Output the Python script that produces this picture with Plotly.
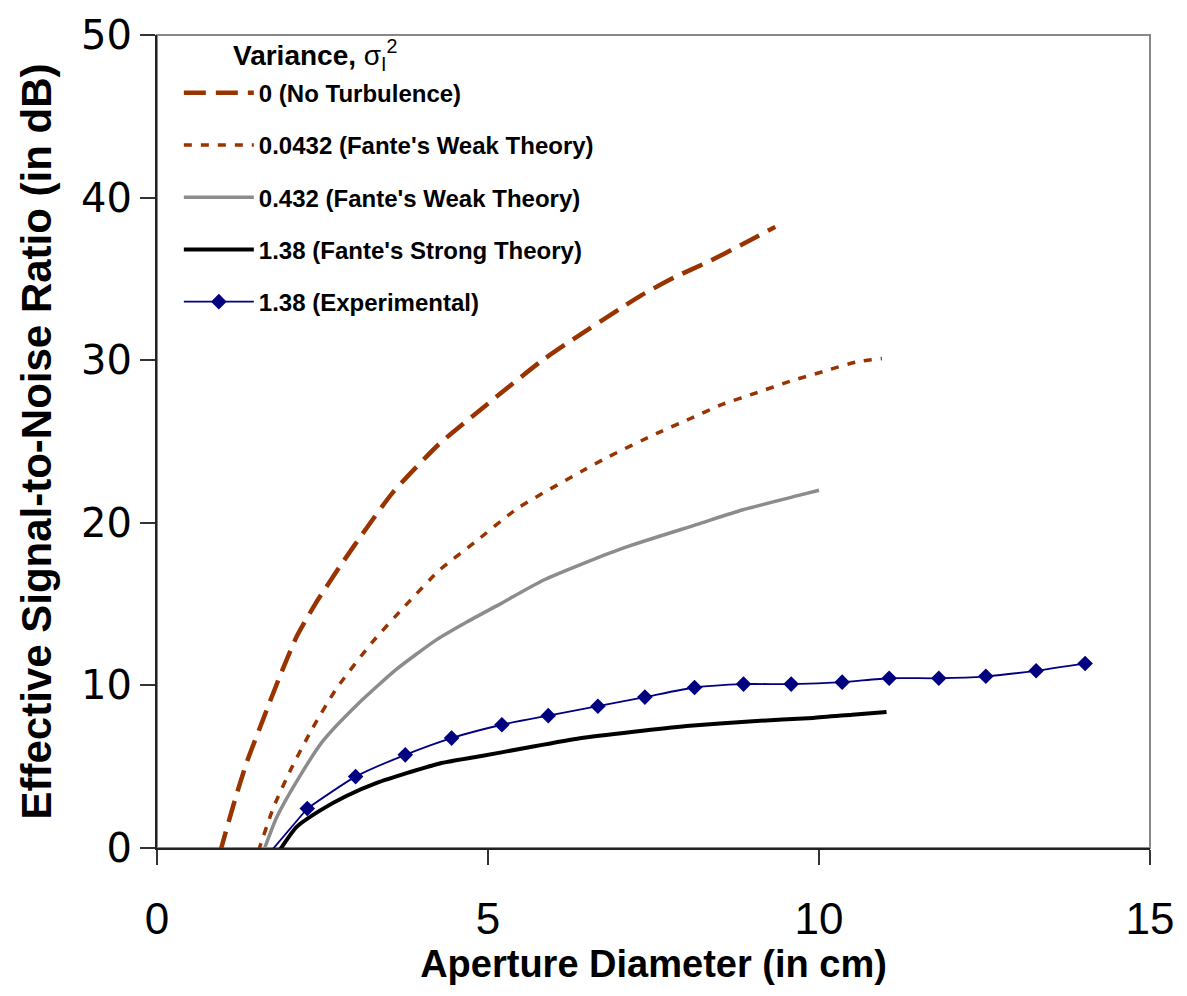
import plotly.graph_objects as go

# Aperture diameter (cm) vs effective SNR (dB) for several log-intensity variances
x_none = [0.95, 1.18, 1.35, 1.63, 1.86, 2.11, 2.39, 2.76, 3.17, 3.57, 4.25, 4.78,
          5.79, 6.29, 6.99, 7.32, 7.82, 8.35, 8.83, 9.34]
y_none = [-0.3, 3.0, 5.2, 8.2, 10.6, 13.0, 15.0, 17.3, 19.7, 21.9, 24.8, 26.6,
          29.9, 31.3, 33.15, 34.0, 35.1, 36.1, 37.1, 38.2]

x_weak1 = [1.53, 1.77, 2.03, 2.34, 2.71, 3.24, 3.75, 4.27, 4.80, 5.45, 6.43, 6.79,
           7.55, 8.05, 8.55, 9.06, 9.56, 10.06, 10.57, 10.95]
y_weak1 = [-0.2, 2.6, 4.9, 7.3, 9.8, 12.6, 14.9, 17.1, 18.8, 20.9, 23.2, 24.0,
           25.5, 26.4, 27.3, 28.0, 28.7, 29.3, 29.9, 30.1]

x_weak2 = [1.60, 1.81, 2.11, 2.51, 3.02, 3.62, 4.22, 4.68, 5.18, 5.85, 7.01, 8.16,
           8.85, 9.71, 10.0]
y_weak2 = [-0.3, 1.9, 4.1, 6.6, 8.8, 11.0, 12.8, 13.9, 15.0, 16.5, 18.4, 19.9,
           20.8, 21.7, 22.0]

x_strong = [1.81, 2.11, 2.46, 2.86, 3.32, 3.77, 4.27, 4.88, 5.56, 6.39, 7.20,
            8.00, 9.00, 9.91, 10.5, 11.02]
y_strong = [-0.4, 1.3, 2.3, 3.2, 4.0, 4.6, 5.2, 5.64, 6.15, 6.75, 7.15,
            7.5, 7.8, 8.0, 8.2, 8.37]

x_exp = [2.27, 3.0, 3.75, 4.45, 5.21, 5.91, 6.66, 7.37, 8.12, 8.86, 9.58, 10.35,
         11.06, 11.81, 12.52, 13.28, 14.02]
y_exp = [2.43, 4.39, 5.73, 6.76, 7.58, 8.14, 8.72, 9.28, 9.87, 10.08, 10.08, 10.2,
         10.44, 10.44, 10.56, 10.9, 11.35]
# lead-in of the experimental curve below the first measured point
x_exp_lead = [1.68, 2.27]
y_exp_lead = [-0.4, 2.43]

names = [
    "0 (No Turbulence)",
    "0.0432 (Fante's Weak Theory)",
    "0.432 (Fante's Weak Theory)",
    "1.38 (Fante's Strong Theory)",
    "1.38 (Experimental)",
]
legend_title = "<b>Variance, </b>σ<sub>I</sub><sup>2</sup>"
x_title = "<b>Aperture Diameter (in cm)</b>"
y_title = "<b>Effective Signal-to-Noise Ratio (in dB)</b>"

RUST = "#993300"
GRAY = "#8c8c8c"
NAVY = "#000080"
SANS = "Liberation Sans, Arial, sans-serif"

fig = go.Figure()

fig.add_trace(go.Scatter(
    x=x_none, y=y_none, name="<b>%s</b>" % names[0], mode="lines", legendgroup="a",
    line=dict(color=RUST, width=4.5, dash="22px,10px", shape="spline", smoothing=0.6)))
fig.add_trace(go.Scatter(
    x=x_weak1, y=y_weak1, name="<b>%s</b>" % names[1], mode="lines", legendgroup="b",
    line=dict(color=RUST, width=3.5, dash="8px,9px", shape="spline", smoothing=0.6)))
fig.add_trace(go.Scatter(
    x=x_weak2, y=y_weak2, name="<b>%s</b>" % names[2], mode="lines", legendgroup="c",
    line=dict(color=GRAY, width=3.5, shape="spline", smoothing=0.6)))
fig.add_trace(go.Scatter(
    x=x_strong, y=y_strong, name="<b>%s</b>" % names[3], mode="lines", legendgroup="d",
    line=dict(color="black", width=4, shape="spline", smoothing=0.6)))
fig.add_trace(go.Scatter(
    x=x_exp_lead, y=y_exp_lead, mode="lines", showlegend=False, legendgroup="e",
    line=dict(color=NAVY, width=1.8, shape="spline")))
fig.add_trace(go.Scatter(
    x=x_exp, y=y_exp, name="<b>%s</b>" % names[4], mode="lines+markers", legendgroup="e",
    line=dict(color=NAVY, width=1.8, shape="spline", smoothing=0.6),
    marker=dict(symbol="diamond", size=12, color=NAVY)))

fig.update_layout(
    width=1187, height=996,
    margin=dict(l=157, r=37, t=24, b=148),
    paper_bgcolor="white", plot_bgcolor="white",
    font=dict(family=SANS, color="black"),
    xaxis=dict(
        range=[0, 15], tickvals=[0, 5, 10, 15], ticks="outside", ticklen=15,
        tickwidth=1.5, tickcolor="#333333", showgrid=False, zeroline=False,
        showline=True, linecolor="#222222", linewidth=2, ticklabelstandoff=16,
        tickfont=dict(family=SANS, size=44, color="black"),
        title=dict(text=x_title, font=dict(family=SANS, size=38, color="black"),
                   standoff=8),
    ),
    yaxis=dict(
        range=[0, 50], tickvals=[0, 10, 20, 30, 40, 50], ticks="outside", ticklen=15,
        tickwidth=1.5, tickcolor="#333333", showgrid=False, zeroline=False,
        showline=True, linecolor="#222222", linewidth=2,
        tickfont=dict(family="DejaVu Sans, sans-serif", size=40, color="black"),
        title=dict(text=y_title, font=dict(family=SANS, size=42, color="black"),
                   standoff=16),
    ),
    legend=dict(
        x=0.022, y=0.956, xanchor="left", yanchor="top",
        bgcolor="rgba(255,255,255,0)", borderwidth=0,
        traceorder="grouped", tracegroupgap=18, itemwidth=70,
        font=dict(family=SANS, size=24, color="black"),
    ),
    annotations=[dict(
        text=legend_title, xref="paper", yref="paper", x=0.075, y=0.975,
        xanchor="left", yanchor="middle", showarrow=False,
        font=dict(family=SANS, size=28, color="black"))],
    shapes=[dict(type="rect", xref="x domain", yref="y domain", x0=0, x1=1, y0=0, y1=1,
                 line=dict(color="#888888", width=2), layer="below")],
)

fig.write_html("out.html")
